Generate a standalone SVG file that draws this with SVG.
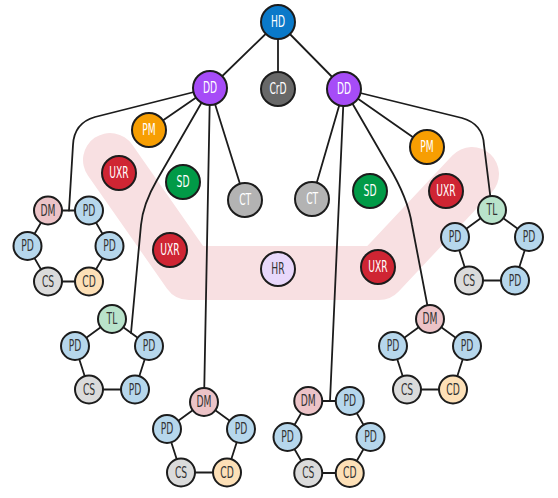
<svg xmlns="http://www.w3.org/2000/svg" width="558" height="498" viewBox="0 0 558 498">
<style>
.ln{fill:none;stroke:#1c1c1c;stroke-width:1.8;stroke-linecap:round;stroke-linejoin:round}
circle{stroke:#1c1c1c;stroke-width:2}
text{font-family:"DejaVu Sans Condensed","Liberation Sans Narrow","Liberation Sans",sans-serif;font-size:15px;text-anchor:middle;dominant-baseline:central;transform-box:fill-box;transform-origin:center;transform:scaleX(0.68)}
.w{fill:#ffffff}
.d{fill:#333333}
.hd{fill:#0a79c9}.crd{fill:#686868}.dd{fill:#a64cf7}.pm{fill:#f79e02}.uxr{fill:#cf2533}.sd{fill:#019a47}.ct{fill:#b3b3b3}.hr{fill:#e8d8fb}
.dm{fill:#ecc3c7}.pd{fill:#b6d7ec}.cs{fill:#dbdbdb}.cd{fill:#fde0b7}.tl{fill:#b9e3cb}
</style>
<path d="M110,160 L189,273 L379,273 L472,174" fill="none" stroke="#f8e0e2" stroke-width="54" stroke-linecap="round" stroke-linejoin="round"/>
<g id="connectors" class="ln">
<line x1="278" y1="22" x2="210" y2="88"/>
<line x1="278" y1="22" x2="278" y2="89"/>
<line x1="278" y1="22" x2="344" y2="89"/>
<path d="M210,88 L95,117 Q74,123 73,145 L69,210.5"/>
<line x1="210" y1="88" x2="149" y2="130"/>
<path d="M210,88 L157,180 Q143,204 141,225 L131,333"/>
<line x1="210" y1="88" x2="204" y2="402"/>
<line x1="210" y1="88" x2="245" y2="200"/>
<path d="M344,89 L462,118 Q483,124 484,145 L492,210"/>
<line x1="344" y1="89" x2="427" y2="147"/>
<line x1="344" y1="89" x2="312" y2="199"/>
<line x1="344" y1="89" x2="330" y2="401"/>
<path d="M344,89 L388,165 Q408,198 412,225 L430,319"/>
<polygon points="48,210.5 89,210.5 109.5,246 89,281.5 48,281.5 27.5,246"/>
<polygon points="112,319 149,346 135,389.5 89,389.5 75,346"/>
<polygon points="492,210 529,237 515,280.5 469,280.5 455,237"/>
<polygon points="204,402 241,429 227,472.5 181,472.5 167,429"/>
<polygon points="430,319 467,346 453,389.5 407,389.5 393,346"/>
<polygon points="308.25,401 349.75,401 370.5,437 349.75,473 308.25,473 287.5,437"/>
</g>
<g id="hd"><circle class="hd" cx="278" cy="22" r="17"/><text class="w" x="278" y="22">HD</text></g>
<g id="crd"><circle class="crd" cx="278" cy="89" r="17"/><text class="w" x="278" y="89">CrD</text></g>
<g id="dd1"><circle class="dd" cx="210" cy="88" r="17"/><text class="w" x="210" y="88">DD</text></g>
<g id="dd2"><circle class="dd" cx="344" cy="89" r="17"/><text class="w" x="344" y="89">DD</text></g>
<g id="pm1"><circle class="pm" cx="149" cy="130" r="17"/><text class="w" x="149" y="130">PM</text></g>
<g id="pm2"><circle class="pm" cx="427" cy="147" r="17"/><text class="w" x="427" y="147">PM</text></g>
<g id="uxr1"><circle class="uxr" cx="119" cy="173" r="17"/><text class="w" x="119" y="173">UXR</text></g>
<g id="sd1"><circle class="sd" cx="183" cy="182" r="17"/><text class="w" x="183" y="182">SD</text></g>
<g id="ct1"><circle class="ct" cx="245" cy="200" r="17"/><text class="w" x="245" y="200">CT</text></g>
<g id="uxr2"><circle class="uxr" cx="170" cy="250" r="17"/><text class="w" x="170" y="250">UXR</text></g>
<g id="hr"><circle class="hr" cx="278" cy="269" r="17"/><text class="d" x="278" y="269">HR</text></g>
<g id="ct2"><circle class="ct" cx="312" cy="199" r="17"/><text class="w" x="312" y="199">CT</text></g>
<g id="sd2"><circle class="sd" cx="370" cy="191" r="17"/><text class="w" x="370" y="191">SD</text></g>
<g id="uxr3"><circle class="uxr" cx="446" cy="191" r="17"/><text class="w" x="446" y="191">UXR</text></g>
<g id="uxr4"><circle class="uxr" cx="378" cy="267" r="17"/><text class="w" x="378" y="267">UXR</text></g>
<g id="hexA">
<g id="hexA-dm"><circle class="dm" cx="48" cy="210.5" r="14"/><text class="d" x="48" y="210.5">DM</text></g>
<g id="hexA-pd1"><circle class="pd" cx="89" cy="210.5" r="14"/><text class="d" x="89" y="210.5">PD</text></g>
<g id="hexA-pd2"><circle class="pd" cx="27.5" cy="246" r="14"/><text class="d" x="27.5" y="246">PD</text></g>
<g id="hexA-pd3"><circle class="pd" cx="109.5" cy="246" r="14"/><text class="d" x="109.5" y="246">PD</text></g>
<g id="hexA-cs"><circle class="cs" cx="48" cy="281.5" r="14"/><text class="d" x="48" y="281.5">CS</text></g>
<g id="hexA-cd"><circle class="cd" cx="89" cy="281.5" r="14"/><text class="d" x="89" y="281.5">CD</text></g>
</g>
<g id="penA">
<g id="penA-tl"><circle class="tl" cx="112" cy="319" r="14"/><text class="d" x="112" y="319">TL</text></g>
<g id="penA-pd1"><circle class="pd" cx="75" cy="346" r="14"/><text class="d" x="75" y="346">PD</text></g>
<g id="penA-pd2"><circle class="pd" cx="149" cy="346" r="14"/><text class="d" x="149" y="346">PD</text></g>
<g id="penA-cs"><circle class="cs" cx="89" cy="389.5" r="14"/><text class="d" x="89" y="389.5">CS</text></g>
<g id="penA-pd3"><circle class="pd" cx="135" cy="389.5" r="14"/><text class="d" x="135" y="389.5">PD</text></g>
</g>
<g id="penB">
<g id="penB-tl"><circle class="tl" cx="492" cy="210" r="14"/><text class="d" x="492" y="210">TL</text></g>
<g id="penB-pd1"><circle class="pd" cx="455" cy="237" r="14"/><text class="d" x="455" y="237">PD</text></g>
<g id="penB-pd2"><circle class="pd" cx="529" cy="237" r="14"/><text class="d" x="529" y="237">PD</text></g>
<g id="penB-cs"><circle class="cs" cx="469" cy="280.5" r="14"/><text class="d" x="469" y="280.5">CS</text></g>
<g id="penB-pd3"><circle class="pd" cx="515" cy="280.5" r="14"/><text class="d" x="515" y="280.5">PD</text></g>
</g>
<g id="penC">
<g id="penC-dm"><circle class="dm" cx="204" cy="402" r="14"/><text class="d" x="204" y="402">DM</text></g>
<g id="penC-pd1"><circle class="pd" cx="167" cy="429" r="14"/><text class="d" x="167" y="429">PD</text></g>
<g id="penC-pd2"><circle class="pd" cx="241" cy="429" r="14"/><text class="d" x="241" y="429">PD</text></g>
<g id="penC-cs"><circle class="cs" cx="181" cy="472.5" r="14"/><text class="d" x="181" y="472.5">CS</text></g>
<g id="penC-cd"><circle class="cd" cx="227" cy="472.5" r="14"/><text class="d" x="227" y="472.5">CD</text></g>
</g>
<g id="penD">
<g id="penD-dm"><circle class="dm" cx="430" cy="319" r="14"/><text class="d" x="430" y="319">DM</text></g>
<g id="penD-pd1"><circle class="pd" cx="393" cy="346" r="14"/><text class="d" x="393" y="346">PD</text></g>
<g id="penD-pd2"><circle class="pd" cx="467" cy="346" r="14"/><text class="d" x="467" y="346">PD</text></g>
<g id="penD-cs"><circle class="cs" cx="407" cy="389.5" r="14"/><text class="d" x="407" y="389.5">CS</text></g>
<g id="penD-cd"><circle class="cd" cx="453" cy="389.5" r="14"/><text class="d" x="453" y="389.5">CD</text></g>
</g>
<g id="hexB">
<g id="hexB-dm"><circle class="dm" cx="308.25" cy="401" r="14"/><text class="d" x="308.25" y="401">DM</text></g>
<g id="hexB-pd1"><circle class="pd" cx="349.75" cy="401" r="14"/><text class="d" x="349.75" y="401">PD</text></g>
<g id="hexB-pd2"><circle class="pd" cx="287.5" cy="437" r="14"/><text class="d" x="287.5" y="437">PD</text></g>
<g id="hexB-pd3"><circle class="pd" cx="370.5" cy="437" r="14"/><text class="d" x="370.5" y="437">PD</text></g>
<g id="hexB-cs"><circle class="cs" cx="308.25" cy="473" r="14"/><text class="d" x="308.25" y="473">CS</text></g>
<g id="hexB-cd"><circle class="cd" cx="349.75" cy="473" r="14"/><text class="d" x="349.75" y="473">CD</text></g>
</g>
</svg>
